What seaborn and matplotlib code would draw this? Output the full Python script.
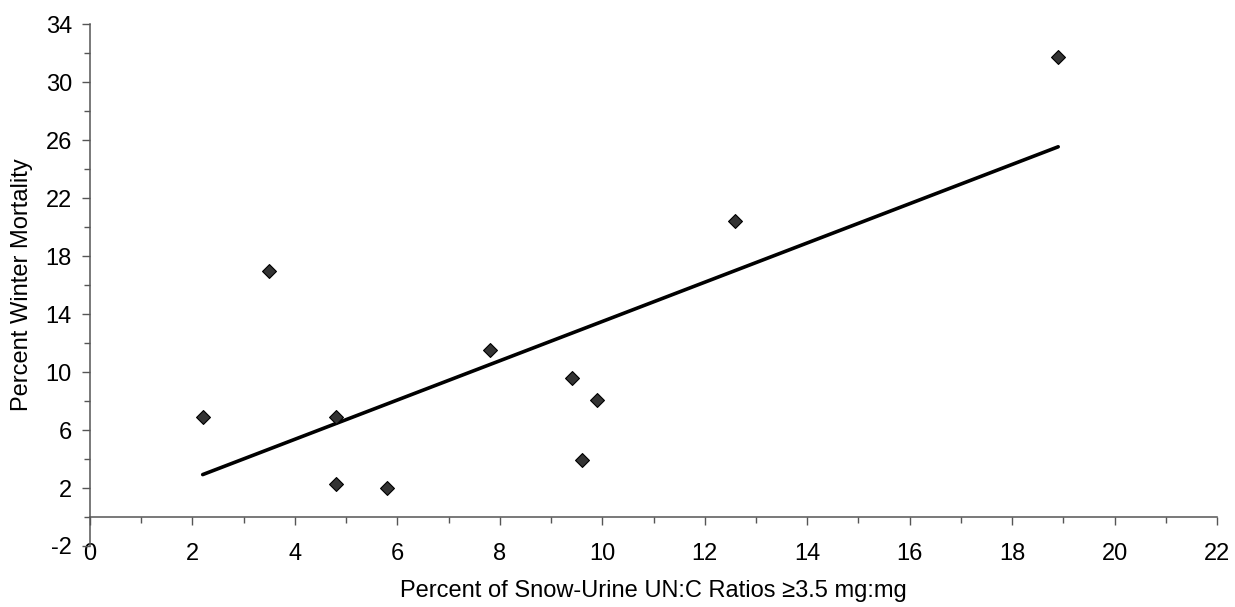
import numpy as np
import pandas as pd
import matplotlib
matplotlib.use("Agg")
import matplotlib.pyplot as plt
from matplotlib.ticker import MultipleLocator, FixedLocator
import seaborn as sns

# Data
pct_high_ratio = [2.2, 3.5, 4.8, 4.8, 5.8, 7.8, 9.4, 9.6, 9.9, 12.6, 18.9]
pct_mortality = [6.9, 17.0, 6.9, 2.3, 2.0, 11.5, 9.6, 3.9, 8.1, 20.4, 31.7]
x_ticks = [0, 2, 4, 6, 8, 10, 12, 14, 16, 18, 20, 22]
y_ticks = [-2, 2, 6, 10, 14, 18, 22, 26, 30, 34]

df = pd.DataFrame({"x": pct_high_ratio, "y": pct_mortality})

sns.set_theme(style="white")
plt.rcParams["font.family"] = ["Liberation Sans", "DejaVu Sans"]
plt.rcParams["axes.unicode_minus"] = False

W, H = 1235, 607
fig = plt.figure(figsize=(W / 100, H / 100), dpi=100)
ax = fig.add_axes([90 / W, 1 - 546 / H, (1217 - 90) / W, (546 - 24) / H])

sns.regplot(data=df, x="x", y="y", ax=ax, scatter=False, ci=None, truncate=True,
            line_kws=dict(color="black", linewidth=2.6))
sns.scatterplot(data=df, x="x", y="y", ax=ax, marker="D", s=50,
                color="#333333", edgecolor="black", linewidth=0.8, zorder=5)

ax.set_xlim(0, 22)
ax.set_ylim(-2, 34)
ax.xaxis.set_major_locator(FixedLocator(x_ticks))
ax.xaxis.set_minor_locator(MultipleLocator(1))
ax.yaxis.set_major_locator(FixedLocator(y_ticks))
ax.yaxis.set_minor_locator(FixedLocator(np.arange(0, 34, 4)))

spine_color = "#555555"
for s in ["top", "right"]:
    ax.spines[s].set_visible(False)
ax.spines["bottom"].set_position(("data", 0))
ax.spines["left"].set_position(("data", 0))
for s in ["bottom", "left"]:
    ax.spines[s].set_color(spine_color)
    ax.spines[s].set_linewidth(1.1)

ax.tick_params(axis="both", which="both", direction="out", colors=spine_color,
               labelcolor="black", labelsize=17, width=1)
ax.tick_params(axis="both", which="major", length=6, bottom=True, left=True)
ax.tick_params(axis="both", which="minor", length=4.5, bottom=True, left=True)
ax.tick_params(axis="x", which="major", pad=13)
ax.tick_params(axis="y", which="major", pad=7)

ax.set_xlabel("Percent of Snow-Urine UN:C Ratios ≥3.5 mg:mg", fontsize=17, color="black")
ax.set_ylabel("Percent Winter Mortality", fontsize=17, color="black")
ax.xaxis.set_label_coords(0.5, -0.066)
ax.yaxis.set_label_coords(-0.051, 0.5)
ax.grid(False)

fig.savefig("out.png", dpi=100)
